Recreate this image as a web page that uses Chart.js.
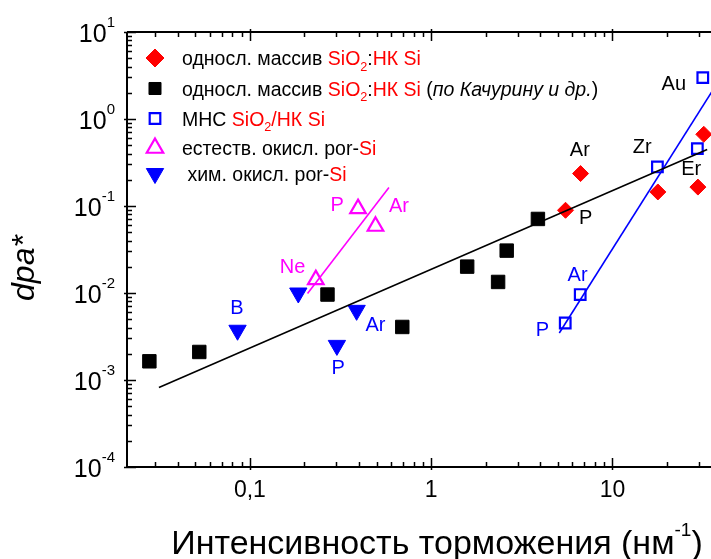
<!DOCTYPE html>
<html>
<head>
<meta charset="utf-8">
<script src="https://cdn.jsdelivr.net/npm/chart.js@4.4.0/dist/chart.umd.min.js"></script>
<style>
  body { margin: 0; background: #fff; overflow: hidden; }
  canvas { display: block; }
</style>
</head>
<body>
<canvas id="myChart" width="711" height="559"></canvas>
<script>
'use strict';

// однослойный массив SiO2:НК Si
let redX = [5.51, 6.67, 17.8, 29.6, 31.9];
let redY = [0.0893, 0.236, 0.145, 0.165, 0.667];
// однослойный массив SiO2:НК Si (по Качурину и др.)
let blackX = [0.0279, 0.0526, 0.268, 0.693, 1.58, 2.34, 2.61, 3.88];
let blackY = [0.00164, 0.0021, 0.0096, 0.00407, 0.0201, 0.0134, 0.0307, 0.071];
// МНС SiO2/НК Si
let mnsX = [5.49, 6.64, 17.7, 29.4, 31.5];
let mnsY = [0.00452, 0.0096, 0.281, 0.457, 2.99];
// естеств. окисл. por-Si
let natX = [0.231, 0.395, 0.493];
let natY = [0.01426, 0.0933, 0.0585];
// хим. окисл. por-Si
let chemX = [0.0855, 0.185, 0.302, 0.388];
let chemY = [0.00373, 0.0100, 0.0025, 0.00632];

// fit lines (end points)
let fitAllX = [0.0315, 33.3];
let fitAllY = [0.000818, 0.445];
let fitNatX = [0.208, 0.585];
let fitNatY = [0.00984, 0.1627];
let fitMnsX = [5.09, 35.2];
let fitMnsY = [0.00347, 2.04];

// point labels
let labelText = ['Ne', 'P', 'Ar', 'B', 'P', 'Ar', 'Ar', 'P', 'Ar', 'P', 'Zr', 'Au', 'Er'];
let labelX = [0.172, 0.303, 0.664, 0.0848, 0.307, 0.493, 6.42, 4.11, 6.61, 7.11, 14.6, 21.8, 27.2];
let labelY = [0.0203, 0.1066, 0.102, 0.0069, 0.00141, 0.00445, 0.0164, 0.0039, 0.457, 0.0748, 0.485, 2.59, 0.276];
let labelColor = ['#ff00ff', '#ff00ff', '#ff00ff', '#0000ff', '#0000ff', '#0000ff', '#0000ff', '#0000ff',
    '#000', '#000', '#000', '#000', '#000'];

// ticks
let xTickValues = [0.1, 1, 10];
let xTickLabels = ['0,1', '1', '10'];
let yTickValues = [10, 1, 0.1, 0.01, 0.001, 0.0001];
let yTickExp = ['1', '0', '-1', '-2', '-3', '-4'];

let xTitle = 'Интенсивность торможения (нм';
let xTitleExp = '-1';
let yTitle = 'dpa*';

const RED = '#ff0000';
const BLK = '#000000';
let legendRows = [
    [{t: 'односл. массив ', c: BLK}, {t: 'SiO', c: RED}, {t: '2', c: RED, sub: true}, {t: ':', c: BLK}, {t: 'НК Si', c: RED}],
    [{t: 'односл. массив ', c: BLK}, {t: 'SiO', c: RED}, {t: '2', c: RED, sub: true}, {t: ':', c: BLK}, {t: 'НК Si', c: RED},
        {t: ' (', c: BLK}, {t: 'по Качурину и др.', c: BLK, it: true}, {t: ')', c: BLK}],
    [{t: 'МНС ', c: BLK}, {t: 'SiO', c: RED}, {t: '2', c: RED, sub: true}, {t: '/НК Si', c: RED}],
    [{t: 'естеств. окисл. por-', c: BLK}, {t: 'Si', c: RED}],
    [{t: ' хим. окисл. por-', c: BLK}, {t: 'Si', c: RED}]
];

const FONT = '"Liberation Sans", Arial, sans-serif';

function pts(xs, ys) {
    return xs.map((x, i) => ({x: x, y: ys[i]}));
}

function fitLine(xs, ys, color) {
    return {
        type: 'line',
        data: pts(xs, ys),
        borderColor: color,
        borderWidth: 1.6,
        pointRadius: 0,
        showLine: true,
        fill: false
    };
}

let markers = [
    {style: 'rectRot', radius: 8, fill: RED, stroke: RED, bw: 1, rot: 0},
    {style: 'rect', radius: 9.5, fill: BLK, stroke: BLK, bw: 1, rot: 0},
    {style: 'rect', radius: 7.5, fill: 'rgba(0,0,0,0)', stroke: '#0000ff', bw: 2.2, rot: 0},
    {style: 'triangle', radius: 9, fill: 'rgba(0,0,0,0)', stroke: '#ff00ff', bw: 2.2, rot: 0},
    {style: 'triangle', radius: 10, fill: '#0000ff', stroke: '#0000ff', bw: 1, rot: 180}
];
let legendMarkers = [
    {style: 'rectRot', radius: 9, fill: RED, stroke: RED, bw: 1, rot: 0},
    {style: 'rect', radius: 8.5, fill: BLK, stroke: BLK, bw: 1, rot: 0},
    {style: 'rect', radius: 7.5, fill: 'rgba(0,0,0,0)', stroke: '#0000ff', bw: 2.2, rot: 0},
    {style: 'triangle', radius: 9.5, fill: 'rgba(0,0,0,0)', stroke: '#ff00ff', bw: 2.2, rot: 0},
    {style: 'triangle', radius: 10, fill: '#0000ff', stroke: '#0000ff', bw: 1, rot: 180}
];

function scatterSet(xs, ys, m) {
    return {
        data: pts(xs, ys),
        pointStyle: m.style,
        pointRadius: m.radius,
        pointRotation: m.rot,
        backgroundColor: m.fill,
        borderColor: m.stroke,
        borderWidth: m.bw,
        showLine: false,
        clip: false
    };
}

function drawRuns(ctx, x, y, runs, size) {
    for (let i = 0; i < runs.length; i++) {
        let r = runs[i];
        let s = r.sub ? size * 0.65 : size;
        ctx.font = (r.it ? 'italic ' : '') + s + 'px ' + FONT;
        ctx.fillStyle = r.c;
        ctx.fillText(r.t, x, r.sub ? y + size * 0.3 : y);
        x += ctx.measureText(r.t).width;
    }
}

let axesPlugin = {
    id: 'axesPlugin',
    beforeDatasetsDraw(chart) {
        let ctx = chart.ctx;
        let a = chart.chartArea;
        let xs = chart.scales.x;
        let ys = chart.scales.y;
        ctx.save();
        ctx.strokeStyle = '#000';
        ctx.lineWidth = 1.5;
        ctx.beginPath();
        for (let d = -2; d <= 1; d++) {
            for (let k = 1; k <= 9; k++) {
                let v = k * Math.pow(10, d);
                if (v < xs.min || v > xs.max) continue;
                let px = Math.round(xs.getPixelForValue(v)) + 0.5;
                let len = k === 1 ? 9 : 5;
                let out = k === 1 ? 3 : 0;
                ctx.moveTo(px, a.bottom + out);
                ctx.lineTo(px, a.bottom - len);
                ctx.moveTo(px, a.top - out);
                ctx.lineTo(px, a.top + len);
            }
        }
        for (let d = -4; d <= 1; d++) {
            for (let k = 1; k <= 9; k++) {
                let v = k * Math.pow(10, d);
                if (v < ys.min * 0.999 || v > ys.max * 1.001) continue;
                let py = Math.round(ys.getPixelForValue(v)) + 0.5;
                let len = k === 1 ? 9 : 5;
                let out = k === 1 ? 3 : 0;
                ctx.moveTo(a.left - out, py);
                ctx.lineTo(a.left + len, py);
            }
        }
        ctx.stroke();
        // frame
        ctx.lineWidth = 2;
        ctx.beginPath();
        ctx.moveTo(a.left, a.top);
        ctx.lineTo(a.left, a.bottom);
        ctx.lineTo(a.right, a.bottom);
        ctx.moveTo(a.left, a.top);
        ctx.lineTo(a.right, a.top);
        ctx.stroke();
        ctx.restore();
    },
    afterDraw(chart) {
        let ctx = chart.ctx;
        let a = chart.chartArea;
        let xs = chart.scales.x;
        let ys = chart.scales.y;
        ctx.save();
        ctx.textBaseline = 'alphabetic';

        // y tick labels 10^n
        for (let i = 0; i < yTickValues.length; i++) {
            let py = ys.getPixelForValue(yTickValues[i]);
            ctx.font = '15px ' + FONT;
            let ew = ctx.measureText(yTickExp[i]).width;
            let right = a.left - 12;
            ctx.fillStyle = '#000';
            ctx.textAlign = 'left';
            ctx.fillText(yTickExp[i], right - ew, py - 5);
            ctx.font = '25px ' + FONT;
            ctx.textAlign = 'right';
            ctx.fillText('10', right - ew, py + 10);
        }

        // x tick labels
        ctx.font = '23px ' + FONT;
        ctx.textAlign = 'center';
        for (let i = 0; i < xTickValues.length; i++) {
            ctx.fillText(xTickLabels[i], xs.getPixelForValue(xTickValues[i]), a.bottom + 30);
        }

        // axis titles
        ctx.font = '34px ' + FONT;
        let tw = ctx.measureText(xTitle).width;
        ctx.font = '19px ' + FONT;
        let ew = ctx.measureText(xTitleExp).width;
        ctx.font = '34px ' + FONT;
        let pw = ctx.measureText(')').width;
        let x0 = 437 - (tw + ew + pw) / 2;
        ctx.textAlign = 'left';
        ctx.fillText(xTitle, x0, 554);
        ctx.font = '19px ' + FONT;
        ctx.fillText(xTitleExp, x0 + tw, 536);
        ctx.font = '34px ' + FONT;
        ctx.fillText(')', x0 + tw + ew, 554);

        ctx.save();
        ctx.translate(25, 268);
        ctx.rotate(-Math.PI / 2);
        ctx.font = 'italic 32px ' + FONT;
        ctx.textAlign = 'center';
        ctx.textBaseline = 'middle';
        ctx.fillText(yTitle, 0, 0);
        ctx.restore();

        // point labels
        ctx.font = '20px ' + FONT;
        ctx.textAlign = 'center';
        ctx.textBaseline = 'alphabetic';
        for (let i = 0; i < labelText.length; i++) {
            ctx.fillStyle = labelColor[i];
            ctx.fillText(labelText[i], xs.getPixelForValue(labelX[i]), ys.getPixelForValue(labelY[i]) + 7);
        }

        // legend
        let rowY = [58, 88.5, 118.5, 148, 173.5];
        ctx.textAlign = 'left';
        for (let i = 0; i < legendRows.length; i++) {
            let m = legendMarkers[i];
            ctx.fillStyle = m.fill;
            ctx.strokeStyle = m.stroke;
            ctx.lineWidth = m.bw;
            Chart.helpers.drawPoint(ctx, {pointStyle: m.style, radius: m.radius, rotation: m.rot, borderWidth: m.bw}, 155, rowY[i]);
            drawRuns(ctx, 182, rowY[i] + 7, legendRows[i], 19.5);
        }
        ctx.restore();
    }
};

let ctx = document.getElementById('myChart').getContext('2d');
let myChart = new Chart(ctx, {
    type: 'scatter',
    data: {
        datasets: [
            fitLine(fitAllX, fitAllY, '#000'),
            fitLine(fitNatX, fitNatY, '#ff00ff'),
            fitLine(fitMnsX, fitMnsY, '#0000ff'),
            scatterSet(redX, redY, markers[0]),
            scatterSet(blackX, blackY, markers[1]),
            scatterSet(mnsX, mnsY, markers[2]),
            scatterSet(natX, natY, markers[3]),
            scatterSet(chemX, chemY, markers[4])
        ]
    },
    options: {
        responsive: false,
        animation: false,
        devicePixelRatio: 1,
        layout: {autoPadding: false, padding: {top: 32, left: 0, right: 0, bottom: 0}},
        plugins: {legend: {display: false}, tooltip: {enabled: false}},
        scales: {
            x: {
                type: 'logarithmic',
                min: 0.021,
                max: 34.96,
                grid: {display: false},
                border: {display: false},
                ticks: {display: false},
                afterFit: function (s) { s.height = 92; }
            },
            y: {
                type: 'logarithmic',
                min: 0.0001,
                max: 10,
                grid: {display: false},
                border: {display: false},
                ticks: {display: false},
                afterFit: function (s) { s.width = 127; }
            }
        }
    },
    plugins: [axesPlugin]
});
</script>
</body>
</html>
